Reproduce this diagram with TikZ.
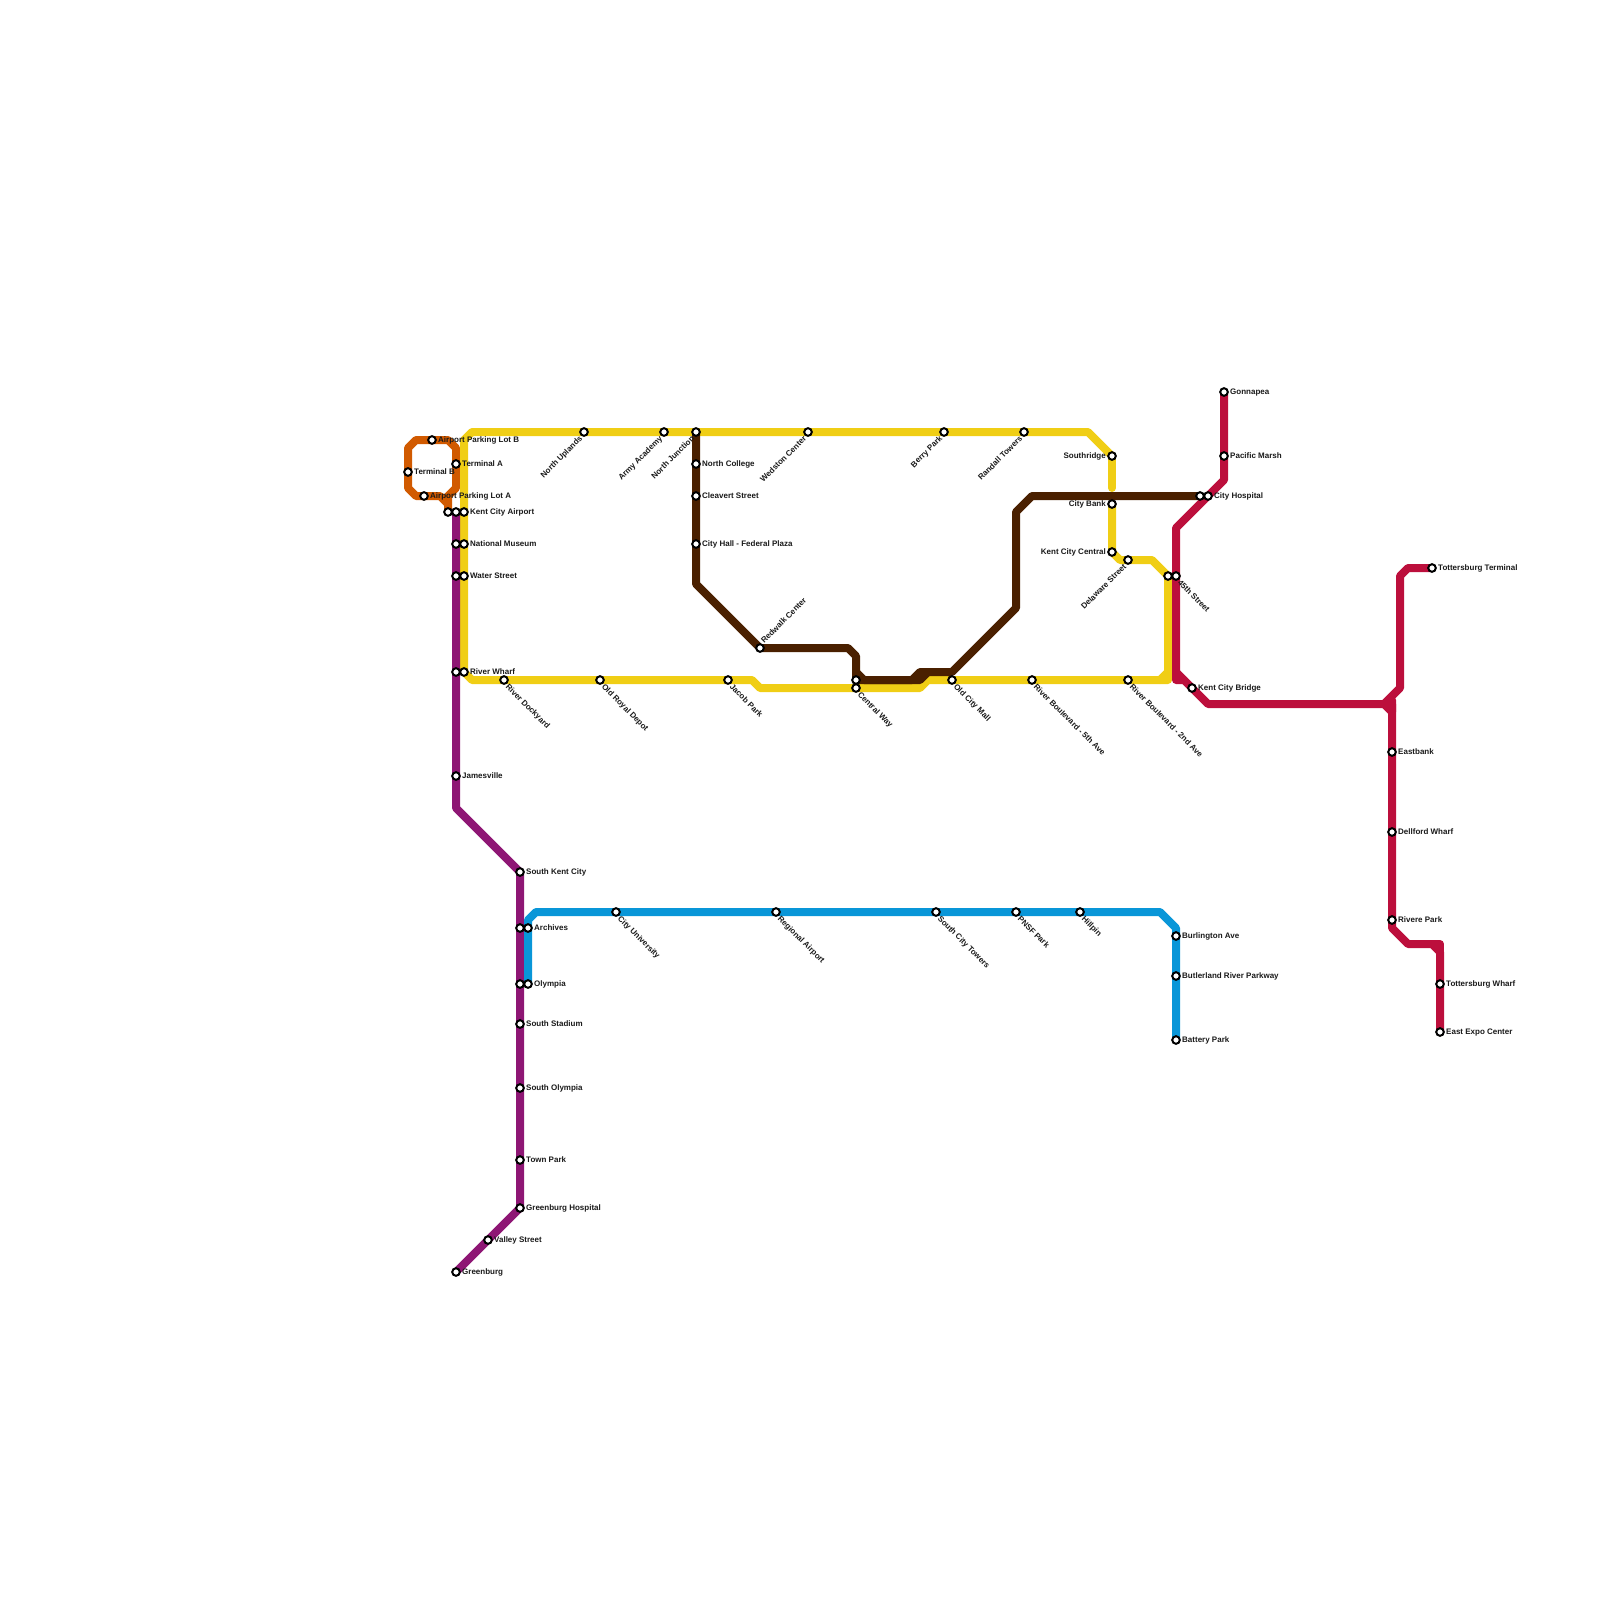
\documentclass[tikz,border=0pt]{standalone}
\usepackage{fontspec}
\setmainfont{Liberation Sans}
\usetikzlibrary{backgrounds}
\definecolor{cOrange}{HTML}{D15A00}
\definecolor{cYellow}{HTML}{F0CE15}
\definecolor{cPurple}{HTML}{8E1674}
\definecolor{cBlue}{HTML}{0996D8}
\definecolor{cBrown}{HTML}{4A2000}
\definecolor{cRed}{HTML}{BC0F3C}
\tikzset{
  x=1pt,y=-1pt,
  lineroute/.style={line width=8pt,line cap=round,line join=round},
  stn/.style={circle,draw=black,fill=white,line width=2pt,minimum size=7.6pt,inner sep=0pt,outer sep=0pt},
  lb/.style={font=\fontsize{8}{8}\bfseries\selectfont,text=black!90,inner sep=0pt,text height=5.8pt,text depth=1.4pt},
  lr/.style={label={[lb,anchor=west,label distance=2.2pt]0:#1}},
  ll/.style={label={[lb,anchor=east,label distance=2.2pt]180:#1}},
  lur/.style={label={[lb,anchor=west,rotate=45,label distance=3pt]45:#1}},
  ldl/.style={label={[lb,anchor=east,rotate=45,label distance=3pt]225:#1}},
  ldr/.style={label={[lb,anchor=west,rotate=-45,label distance=3pt]-45:#1}},
}
\begin{document}
\begin{tikzpicture}
\useasboundingbox (0,0) rectangle (1600,1600);
% stations
\node[stn,lr={Airport Parking Lot B}] (aplb) at (432,440) {};
\node[stn,lr={Terminal B}] (termb) at (408,472) {};
\node[stn,lr={Terminal A}] (terma) at (456,464) {};
\node[stn,lr={Airport Parking Lot A}] (apla) at (424,496) {};
\node[stn] (kcao) at (448,512) {};
\node[stn] (kcap) at (456,512) {};
\node[stn,lr={Kent City Airport}] (kcay) at (464,512) {};
\node[stn] (nmp) at (456,544) {};
\node[stn,lr={National Museum}] (nmy) at (464,544) {};
\node[stn] (wsp) at (456,576) {};
\node[stn,lr={Water Street}] (wsy) at (464,576) {};
\node[stn] (rwp) at (456,672) {};
\node[stn,lr={River Wharf}] (rwy) at (464,672) {};
\node[stn,ldr={River Dockyard}] (rdock) at (504,680) {};
\node[stn,ldr={Old Royal Depot}] (ord) at (600,680) {};
\node[stn,ldr={Jacob Park}] (jacob) at (728,680) {};
\node[stn] (cwb) at (856,680) {};
\node[stn,ldr={Central Way}] (cwy) at (856,688) {};
\node[stn,ldr={Old City Mall}] (ocm) at (952,680) {};
\node[stn,ldr={River Boulevard - 5th Ave}] (rb5) at (1032,680) {};
\node[stn,ldr={River Boulevard - 2nd Ave}] (rb2) at (1128,680) {};
\node[stn,ldl={North Uplands}] (nup) at (584,432) {};
\node[stn,ldl={Army Academy}] (army) at (664,432) {};
\node[stn,ldl={North Junction}] (njn) at (696,432) {};
\node[stn,ldl={Wedston Center}] (wed) at (808,432) {};
\node[stn,ldl={Berry Park}] (berry) at (944,432) {};
\node[stn,ldl={Randall Towers}] (rand) at (1024,432) {};
\node[stn,ll={Southridge}] (south) at (1112,456) {};
\node[stn,ll={City Bank}] (cbank) at (1112,504) {};
\node[stn,ll={Kent City Central}] (kcc) at (1112,552) {};
\node[stn,ldl={Delaware Street}] (dela) at (1128,560) {};
\node[stn] (st45y) at (1168,576) {};
\node[stn,ldr={45th Street}] (st45r) at (1176,576) {};
\node[stn,lr={North College}] (ncol) at (696,464) {};
\node[stn,lr={Cleavert Street}] (clea) at (696,496) {};
\node[stn,lr={City Hall - Federal Plaza}] (chall) at (696,544) {};
\node[stn,lur={Redwalk Center}] (redw) at (760,648) {};
\node[stn] (chb) at (1200,496) {};
\node[stn,lr={City Hospital}] (chr) at (1208,496) {};
\node[stn,lr={Gonnapea}] (gonn) at (1224,392) {};
\node[stn,lr={Pacific Marsh}] (pmar) at (1224,456) {};
\node[stn,lr={Kent City Bridge}] (kcb) at (1192,688) {};
\node[stn,lr={Tottersburg Terminal}] (ttt) at (1432,568) {};
\node[stn,lr={Eastbank}] (east) at (1392,752) {};
\node[stn,lr={Dellford Wharf}] (dell) at (1392,832) {};
\node[stn,lr={Rivere Park}] (riv) at (1392,920) {};
\node[stn,lr={Tottersburg Wharf}] (ttw) at (1440,984) {};
\node[stn,lr={East Expo Center}] (expo) at (1440,1032) {};
\node[stn,lr={Jamesville}] (jame) at (456,776) {};
\node[stn,lr={South Kent City}] (skc) at (520,872) {};
\node[stn] (arcp) at (520,928) {};
\node[stn,lr={Archives}] (arcb) at (528,928) {};
\node[stn] (olyp) at (520,984) {};
\node[stn,lr={Olympia}] (olyb) at (528,984) {};
\node[stn,lr={South Stadium}] (ssta) at (520,1024) {};
\node[stn,lr={South Olympia}] (soly) at (520,1088) {};
\node[stn,lr={Town Park}] (town) at (520,1160) {};
\node[stn,lr={Greenburg Hospital}] (ghos) at (520,1208) {};
\node[stn,lr={Valley Street}] (vall) at (488,1240) {};
\node[stn,lr={Greenburg}] (gbrg) at (456,1272) {};
\node[stn,ldr={City University}] (cuni) at (616,912) {};
\node[stn,ldr={Regional Airport}] (rair) at (776,912) {};
\node[stn,ldr={South City Towers}] (sct) at (936,912) {};
\node[stn,ldr={PNSF Park}] (pnsf) at (1016,912) {};
\node[stn,ldr={Hillpin}] (hill) at (1080,912) {};
\node[stn,lr={Burlington Ave}] (burl) at (1176,936) {};
\node[stn,lr={Butlerland River Parkway}] (butl) at (1176,976) {};
\node[stn,lr={Battery Park}] (batt) at (1176,1040) {};
% routes
\begin{scope}[on background layer]
\draw[lineroute,cOrange] (kcao.center) -- (448,496) -- (456,488) -- (456,448) -- (448,440) -- (aplb.center) -- (416,440) -- (408,448) -- (termb.center) -- (408,488) -- (416,496) -- (apla.center) -- (440,496) -- (448,504);
\draw[lineroute,cYellow] (south.center) -- (1112,488);
\draw[lineroute,cYellow] (cbank.center) -- (kcc.center) -- (1120,560) -- (dela.center) -- (1152,560) -- (st45y.center) -- (1168,672) -- (1160,680);
\draw[lineroute,cYellow] (1168,672) -- (1168,680) -- (rb2.center) -- (rb5.center) -- (ocm.center) -- (928,680) -- (920,688) -- (cwy.center) -- (760,688) -- (752,680) -- (jacob.center) -- (ord.center) -- (rdock.center) -- (472,680) -- (rwy.center) -- (wsy.center) -- (nmy.center) -- (kcay.center) -- (464,440) -- (472,432) -- (nup.center) -- (army.center) -- (njn.center) -- (wed.center) -- (berry.center) -- (rand.center) -- (1088,432) -- (south.center);
\draw[lineroute,cPurple] (kcap.center) -- (nmp.center) -- (wsp.center) -- (rwp.center) -- (jame.center) -- (456,808) -- (skc.center) -- (arcp.center) -- (olyp.center) -- (ssta.center) -- (soly.center) -- (town.center) -- (ghos.center) -- (vall.center) -- (gbrg.center);
\draw[lineroute,cBlue] (olyb.center) -- (arcb.center) -- (528,920) -- (536,912) -- (cuni.center) -- (rair.center) -- (sct.center) -- (pnsf.center) -- (hill.center) -- (1160,912) -- (1176,928) -- (burl.center) -- (butl.center) -- (batt.center);
\draw[lineroute,cBrown] (njn.center) -- (ncol.center) -- (clea.center) -- (chall.center) -- (696,584) -- (redw.center) -- (848,648) -- (856,656) -- (cwb.center) -- (912,680) -- (920,672) -- (952,672) -- (1016,608) -- (1016,512) -- (1032,496) -- (chb.center);
\draw[lineroute,cBrown] (856,672) -- (864,680) -- (920,680) -- (928,672);
\draw[lineroute,cRed] (gonn.center) -- (pmar.center) -- (1224,480) -- (chr.center) -- (1176,528) -- (st45r.center) -- (1176,680) -- (1184,680) -- (kcb.center) -- (1208,704) -- (1384,704) -- (1400,688) -- (1400,576) -- (1408,568) -- (ttt.center);
\draw[lineroute,cRed] (1176,672) -- (1184,680);
\draw[lineroute,cRed] (1384,704) -- (1392,712) -- (1392,700);
\draw[lineroute,cRed] (1392,704) -- (east.center) -- (dell.center) -- (riv.center) -- (1392,928) -- (1408,944) -- (1432,944) -- (1440,952) -- (ttw.center) -- (expo.center);
\draw[lineroute,cRed] (1432,944) -- (1440,944) -- (1440,952);
\end{scope}
\end{tikzpicture}
\end{document}
